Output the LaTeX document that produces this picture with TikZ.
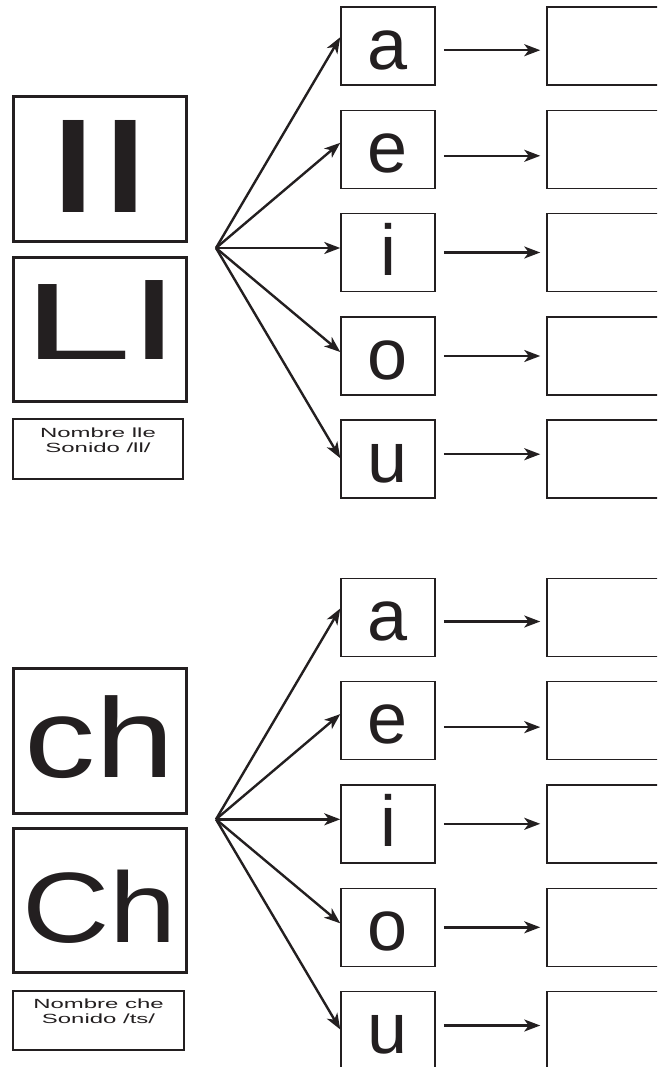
\documentclass[tikz,border=0pt]{standalone}
\usepackage{fontspec}
\setmainfont{Liberation Sans}
\usetikzlibrary{arrows.meta,calc}
\definecolor{ink}{RGB}{35,31,32}
\begin{document}
\begin{tikzpicture}[x=1pt,y=-1pt,
  vbox/.style={draw=ink,line width=1.5pt,minimum width=94pt,minimum height=78pt,inner sep=0pt,text height=62pt,text depth=16pt,font=\fontsize{72}{72}\selectfont,text=ink},
  rbox/.style={draw=ink,line width=1.5pt,minimum width=153pt,minimum height=78pt,inner sep=0pt},
  bigbox/.style={draw=ink,line width=3pt,minimum width=173pt,inner sep=0pt,text=ink},
  namebox/.style={draw=ink,line width=2.3pt,inner sep=0pt},
  nametxt/.style={anchor=base,inner sep=0pt,font=\fontsize{13.3}{15}\selectfont,text=ink},
  arr/.style={draw=ink,line width=2.4pt,-{Stealth[length=16pt,width=12pt,inset=4.5pt]}}]
\useasboundingbox (0,0) rectangle (657,1067);
\clip (0,0) rectangle (657,1067);
% top group
\node[bigbox,minimum height=145pt,text height=115.7pt,text depth=29.3pt] (ll) at (99.5,169.5) {\scalebox{1.85}[1]{\fontsize{127}{127}\selectfont ll}};
\node[bigbox,minimum height=144pt,text height=102.3pt,text depth=41.7pt] (Ll) at (99.5,329) {\scalebox{1.81}[1]{\fontsize{109}{109}\selectfont Ll}};
\node[namebox,minimum width=170pt,minimum height=60pt] (n1) at (98,449) {};
\node[nametxt] (n1a) at (98,437) {\scalebox{1.8}[1]{Nombre lle}};
\node[nametxt] (n1b) at (98,452) {\scalebox{1.8}[1]{Sonido /ll/}};
% bottom group
\node[bigbox,minimum height=145pt,text height=109.2pt,text depth=35.8pt] (ch) at (99.5,740.8) {\scalebox{1.26}[1]{\fontsize{113}{113}\selectfont ch}};
\node[bigbox,minimum height=144.4pt,text height=114.4pt,text depth=30pt] (Ch) at (99.5,900.5) {\scalebox{1.21}[1]{\fontsize{100}{100}\selectfont Ch}};
\node[namebox,minimum width=171pt,minimum height=59pt] (n2) at (98.5,1020.5) {};
\node[nametxt] (n2a) at (98.5,1008.5) {\scalebox{1.8}[1]{Nombre che}};
\node[nametxt] (n2b) at (98.5,1023.5) {\scalebox{1.8}[1]{Sonido /ts/}};
% fans
\coordinate (fT) at (216,248);
\coordinate (fB) at (216,819.3);
\foreach \v/\y/\t/\h in {a/46.2/9/-4, e/149.3/6.5/-6.5, i/252.5/4.5/0, o/356/4/0, u/459.2/1/5} {
  \foreach \s/\dy in {T/0, B/571.3} {
    \node[vbox] (\v\s) at (388,\y+\dy) {\v};
    \node[rbox] (r\v\s) at (623.5,\y+\dy) {};
    \draw[arr] (f\s) -- ([yshift=\t pt]\v\s.west);
    \draw[arr] ([xshift=8pt,yshift=\h pt]\v\s.east) -- ([xshift=-6pt,yshift=\h pt]r\v\s.west);
  }
}
\end{tikzpicture}
\end{document}
